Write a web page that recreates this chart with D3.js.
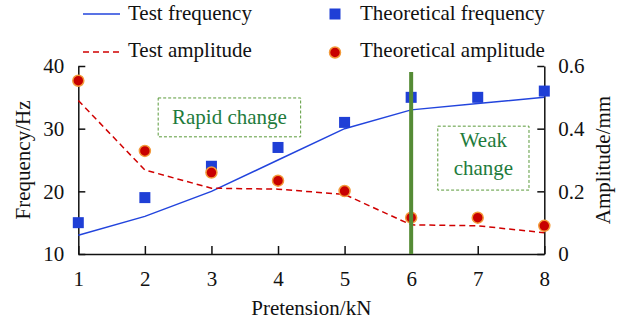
<!DOCTYPE html>
<html>
<head>
<meta charset="utf-8">
<script src="https://cdn.jsdelivr.net/npm/d3@7"></script>
<style>
  body { margin: 0; background: #fff; }
  svg text { font-family: "Liberation Serif", "Times New Roman", serif; fill: #111; }
</style>
</head>
<body>
<svg id="chart" width="622" height="324"></svg>
<script>
// pretension values (kN)
var pretension = [1, 2, 3, 4, 5, 6, 7, 8];
var testFreq = [13, 16, 20, 25, 30, 33, 34, 35];
var theoFreq = [15, 19, 24, 27, 31, 35, 35, 36];
var testAmp = [0.49, 0.268, 0.21, 0.207, 0.19, 0.093, 0.09, 0.068];
var theoAmp = [0.553, 0.329, 0.26, 0.234, 0.201, 0.116, 0.116, 0.09];
var freqTicks = [10, 20, 30, 40];
var ampTicks = [0, 0.2, 0.4, 0.6];
var splitAt = 6;

var svg = d3.select('#chart');
var plotL = 78.3, plotR = 544.3, plotT = 66, plotB = 254;
var fs = '21px';

var x = d3.scaleLinear().domain([1, 8]).range([plotL, plotR]);
var yF = d3.scaleLinear().domain([10, 40]).range([plotB, plotT]);
var yA = d3.scaleLinear().domain([0, 0.6]).range([plotB, plotT]);

var green = '#1e7b3c';

// axes, ticks pointing inward
var xAxis = svg.append('g').attr('transform', 'translate(0,' + plotB + ')')
  .call(d3.axisBottom(x).tickValues(pretension).tickSizeInner(-8).tickSizeOuter(0).tickPadding(14).tickFormat(d3.format('d')));
var yAxisL = svg.append('g').attr('transform', 'translate(' + plotL + ',0)')
  .call(d3.axisLeft(yF).tickValues(freqTicks).tickSizeInner(-7).tickSizeOuter(0).tickPadding(14));
var yAxisR = svg.append('g').attr('transform', 'translate(' + plotR + ',0)')
  .call(d3.axisRight(yA).tickValues(ampTicks).tickSizeInner(-7).tickSizeOuter(0).tickPadding(14)
    .tickFormat(function(d){ return d === 0 ? '0' : d3.format('.1f')(d); }));

[xAxis, yAxisL, yAxisR].forEach(function(g){
  g.selectAll('path,line').attr('stroke', '#111').attr('stroke-width', 1.5);
  g.selectAll('text').style('font-size', fs).attr('fill', '#111')
    .style('font-family', '"Liberation Serif", serif');
});
xAxis.selectAll('text').attr('dy', '0.85em');

// axis titles
svg.append('text').attr('x', (plotL + plotR) / 2).attr('y', 315)
  .attr('text-anchor', 'middle').style('font-size', fs).text('Pretension/kN');
svg.append('text').attr('transform', 'translate(30,160) rotate(-90)')
  .attr('text-anchor', 'middle').style('font-size', fs).text('Frequency/Hz');
svg.append('text').attr('transform', 'translate(610,160) rotate(-90)')
  .attr('text-anchor', 'middle').style('font-size', fs).text('Amplitude/mm');

// annotation boxes
function noteBox(x0, x1, f0, f1, lines, cy) {
  svg.append('rect')
    .attr('x', x(x0)).attr('y', yF(f0))
    .attr('width', x(x1) - x(x0)).attr('height', yF(f1) - yF(f0))
    .attr('fill', 'none').attr('stroke', '#5a9a3a').attr('stroke-width', 1)
    .attr('stroke-dasharray', '3,2');
  var cx = (x(x0) + x(x1)) / 2;
  lines.forEach(function(t, i){
    svg.append('text').attr('x', cx).attr('y', cy[i])
      .attr('text-anchor', 'middle').attr('dominant-baseline', 'central')
      .style('font-size', fs).style('fill', green).text(t);
  });
}
noteBox(2.2, 4.34, 34.9, 28.7, ['Rapid change'], [yF(31.8)]);
noteBox(6.4, 7.77, 30.4, 20.2, ['Weak', 'change'], [yF(28.2), yF(23.8)]);

// test frequency line
svg.append('path')
  .datum(pretension.map(function(p, i){ return [p, testFreq[i]]; }))
  .attr('fill', 'none').attr('stroke', '#2244dd').attr('stroke-width', 1.5)
  .attr('d', d3.line().x(function(d){ return x(d[0]); }).y(function(d){ return yF(d[1]); }));

// test amplitude line
svg.append('path')
  .datum(pretension.map(function(p, i){ return [p, testAmp[i]]; }))
  .attr('fill', 'none').attr('stroke', '#d00000').attr('stroke-width', 1.5)
  .attr('stroke-dasharray', '6,4')
  .attr('d', d3.line().x(function(d){ return x(d[0]); }).y(function(d){ return yA(d[1]); }));

// theoretical frequency squares
svg.selectAll('.sq').data(theoFreq).enter().append('rect')
  .attr('class', 'sq')
  .attr('x', function(d, i){ return x(pretension[i]) - 5.5; })
  .attr('y', function(d){ return yF(d) - 5.5; })
  .attr('width', 11).attr('height', 11)
  .attr('fill', '#1f3fd6');

// theoretical amplitude circles
svg.selectAll('.dot').data(theoAmp).enter().append('circle')
  .attr('class', 'dot')
  .attr('cx', function(d, i){ return x(pretension[i]); })
  .attr('cy', function(d){ return yA(d); })
  .attr('r', 5.5)
  .attr('fill', '#c80000').attr('stroke', '#f39a3a').attr('stroke-width', 1.5);

// split line
svg.append('line')
  .attr('x1', x(splitAt)).attr('x2', x(splitAt))
  .attr('y1', 72).attr('y2', plotB)
  .attr('stroke', '#558b35').attr('stroke-width', 4);

// legend
var lg = svg.append('g');
lg.append('line').attr('x1', 83).attr('x2', 120).attr('y1', 14).attr('y2', 14)
  .attr('stroke', '#2244dd').attr('stroke-width', 1.5);
lg.append('text').attr('x', 128).attr('y', 20).style('font-size', fs).text('Test frequency');
lg.append('line').attr('x1', 83).attr('x2', 120).attr('y1', 52).attr('y2', 52)
  .attr('stroke', '#d00000').attr('stroke-width', 1.5).attr('stroke-dasharray', '6,4');
lg.append('text').attr('x', 128).attr('y', 57).style('font-size', fs).text('Test amplitude');
lg.append('rect').attr('x', 329.5).attr('y', 8.5).attr('width', 11).attr('height', 11).attr('fill', '#1f3fd6');
lg.append('text').attr('x', 360).attr('y', 20).style('font-size', fs).text('Theoretical frequency');
lg.append('circle').attr('cx', 335).attr('cy', 52.5).attr('r', 5.5)
  .attr('fill', '#c80000').attr('stroke', '#f39a3a').attr('stroke-width', 1.5);
lg.append('text').attr('x', 360).attr('y', 57).style('font-size', fs).text('Theoretical amplitude');
</script>
</body>
</html>
